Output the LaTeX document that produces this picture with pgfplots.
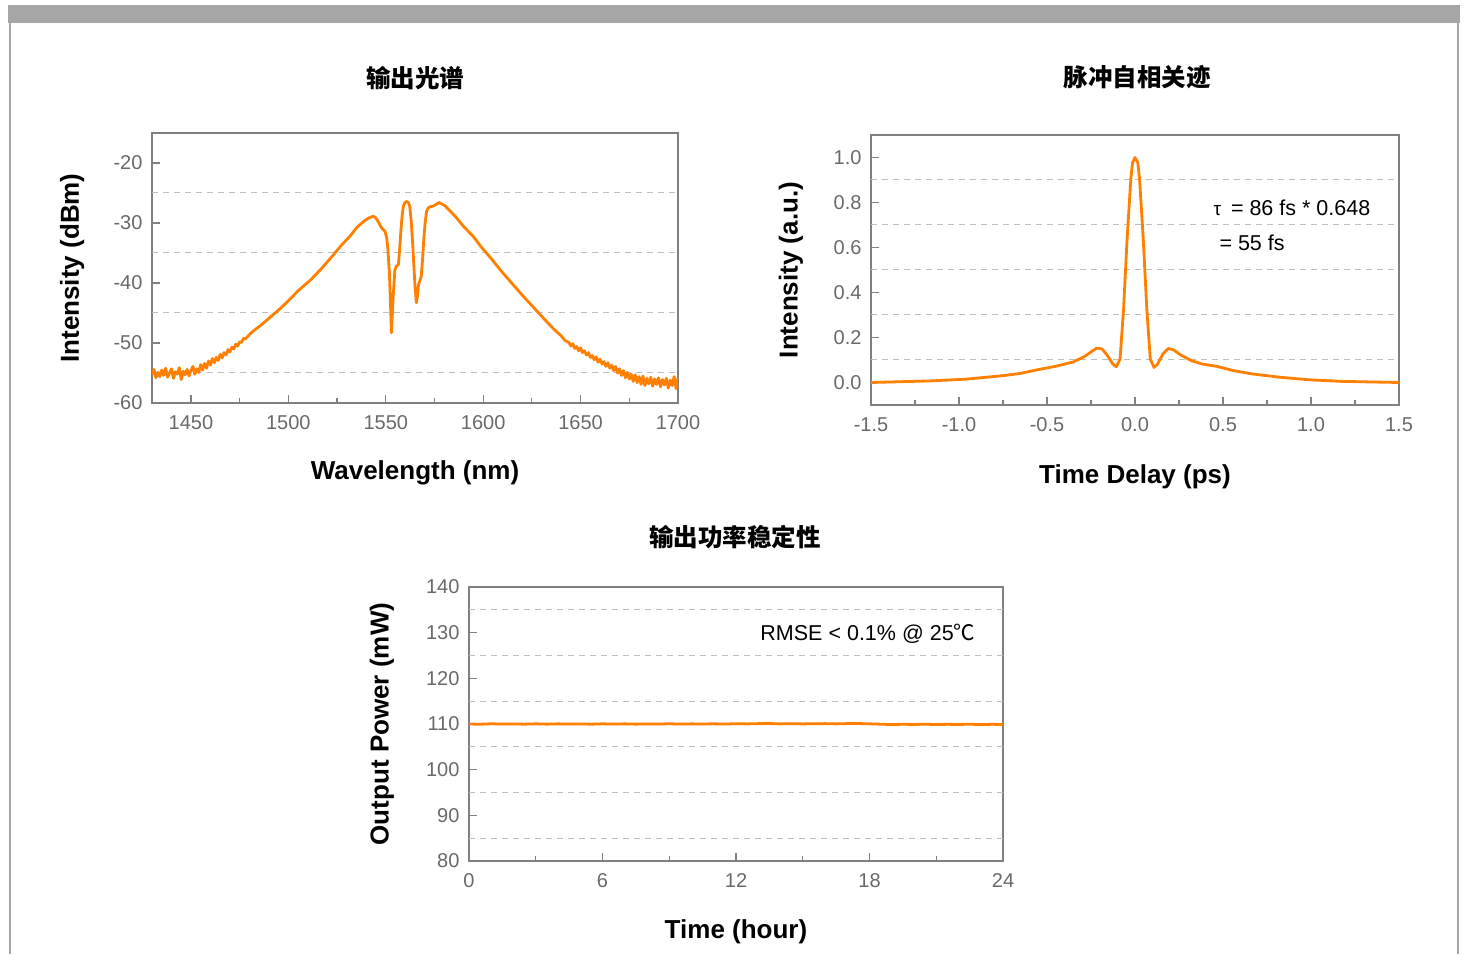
\documentclass[border=0pt]{standalone}
\usepackage{fontspec}
\setmainfont{Liberation Sans}
\newfontfamily\cjk{Noto Sans CJK SC}
\usepackage{pgfplots}
\pgfplotsset{compat=1.18}

\definecolor{lineorange}{RGB}{255,128,0}
\definecolor{axgray}{RGB}{128,128,128}
\definecolor{tickgray}{RGB}{105,105,105}
\definecolor{gridgray}{RGB}{190,190,190}
\definecolor{framegray}{RGB}{166,166,166}

\pgfplotsset{
  panel/.style={
    scale only axis,
    axis line style={axgray, line width=1.6pt},
    tick style={axgray, line width=1.2pt},
    tick align=inside,
    tick pos=left,
    major tick length=8pt,
    minor tick length=5pt,
    ticklabel style={font=\fontsize{20}{24}\selectfont, text=tickgray},
    xticklabel style={yshift=-9pt},
    yticklabel style={xshift=-6pt},
    /pgf/number format/assume math mode=true,
    /pgf/number format/1000 sep={},
    label style={font=\fontsize{26}{30}\selectfont\bfseries},
    title style={font=\fontsize{24.5}{28}\selectfont\cjk\bfseries, anchor=center},
    extra y tick style={grid=major, major tick length=0pt,
      major grid style={gridgray, line width=1pt, dash pattern=on 6pt off 5pt}},
    extra y tick labels={},
  },
  trace/.style={lineorange, line width=2.8pt, line join=round, mark=none},
}

\begin{document}
\begin{tikzpicture}
\path[use as bounding box] (0,0) rectangle (1467pt,954pt);
% page frame
\fill[framegray] (8pt,931pt) rectangle (1460pt,949pt);
\draw[framegray, line width=2pt] (10pt,0pt) -- (10pt,931pt);
\draw[framegray, line width=2pt] (1457.5pt,0pt) -- (1457.5pt,931pt);

% ---- output spectrum
\begin{axis}[panel,
  at={(152pt,551pt)}, anchor=south west, width=526pt, height=270pt,
  xmin=1430, xmax=1700, ymin=-60, ymax=-15,
  xtick={1450,1500,1550,1600,1650,1700}, minor x tick num=1,
  ytick={-60,-50,-40,-30,-20},
  extra y ticks={-55,-45,-35,-25},
  title={输出光谱}, title style={at={(0.5,1.182)}},
  xlabel={Wavelength (nm)}, xlabel style={at={(axis description cs:0.5,-0.259)}, anchor=center},
  ylabel={Intensity (dBm)}, ylabel style={at={(axis description cs:-0.152,0.5)}, anchor=center},
]
\addplot[trace] coordinates {
(1430,-55.3) (1431,-54.4) (1432,-55.8) (1433,-54.9) (1434,-55.6) (1435,-54.5)
(1436,-55.4) (1437,-54.2) (1438,-55.7) (1439,-55.0) (1440,-54.3) (1441,-55.9)
(1442,-54.8) (1443,-55.2) (1444,-54.1) (1445,-56.1) (1446,-54.7) (1447,-55.3)
(1448,-54.4) (1449,-55.5) (1450,-54.6) (1451,-53.9) (1452,-55.2) (1453,-54.3)
(1454,-54.9) (1455,-53.6) (1456,-54.5) (1457,-53.4) (1458,-54.2) (1459,-53.0)
(1460,-53.7) (1461,-52.6) (1462,-53.3) (1463,-52.4) (1464,-52.9) (1465,-51.9)
(1466,-52.5) (1467,-51.6) (1468,-52.0) (1469,-51.1) (1470,-51.5) (1471,-50.7)
(1472,-51.0) (1473,-50.2) (1474,-50.5) (1475,-49.8) (1476,-49.9) (1477,-49.2)
(1478,-49.3) (1480,-48.6) (1482,-48.0) (1484,-47.5) (1486,-47.0) (1490,-45.9)
(1495,-44.5) (1499,-43.3) (1505,-41.3) (1511.7,-39.4) (1517,-37.6) (1522.6,-35.5)
(1527,-33.8) (1531.6,-32.2) (1535,-30.8) (1538.8,-29.7) (1541,-29.2) (1543.3,-28.9)
(1544.5,-29.0) (1546.0,-29.7) (1547.8,-30.8) (1549.6,-31.4) (1550.5,-32.5) (1551.1,-34.4)
(1551.8,-38.0) (1552.3,-42.2) (1552.9,-48.3) (1553.4,-45.0) (1553.8,-42.2) (1554.7,-37.8)
(1555.5,-37.2) (1556.5,-36.9) (1557.2,-34.0) (1557.8,-31.1) (1558.4,-28.8) (1559.0,-27.2)
(1559.8,-26.6) (1560.8,-26.4) (1561.6,-26.6) (1562.3,-27.2) (1563.0,-29.5) (1563.7,-32.8)
(1564.4,-37.0) (1565.0,-40.5) (1565.7,-43.3) (1566.2,-42.3) (1566.8,-40.3) (1567.5,-39.6)
(1568.2,-38.9) (1568.9,-36.0) (1569.5,-32.8) (1570.2,-30.0) (1570.9,-28.1) (1571.8,-27.5)
(1572.7,-27.3) (1574.9,-27.1) (1577.3,-26.6) (1578.5,-26.8) (1580.3,-27.1) (1583,-28.0)
(1585.7,-28.9) (1590,-30.6) (1594.8,-32.2) (1599,-34.0) (1603.8,-35.8) (1609,-37.9)
(1614.6,-40.0) (1620,-42.0) (1625.4,-43.9) (1631,-45.9) (1636.3,-47.7) (1640,-48.8)
(1642,-49.6) (1644,-49.9) (1645,-50.5) (1646,-50.1) (1647,-50.9) (1648,-50.6)
(1649,-51.3) (1650,-50.8) (1651,-51.6) (1652,-51.3) (1653,-52.0) (1654,-51.6)
(1655,-52.4) (1656,-52.1) (1657,-52.8) (1658,-52.3) (1659,-53.2) (1660,-52.7)
(1661,-53.5) (1662,-53.1) (1663,-53.9) (1664,-53.3) (1665,-54.2) (1666,-53.7)
(1667,-54.6) (1668,-53.9) (1669,-55.0) (1670,-54.3) (1671,-55.4) (1672,-54.6)
(1673,-55.8) (1674,-54.9) (1675,-56.0) (1676,-55.2) (1677,-56.4) (1678,-55.3)
(1679,-56.6) (1680,-55.6) (1681,-56.9) (1682,-55.5) (1683,-57.1) (1684,-55.9)
(1685,-56.8) (1686,-55.7) (1687,-57.2) (1688,-56.0) (1689,-56.9) (1690,-55.8)
(1691,-57.3) (1692,-56.1) (1693,-57.0) (1694,-55.9) (1695,-57.5) (1696,-56.2)
(1697,-57.1) (1698,-55.6) (1699,-57.6) (1700,-55.8)
};
\end{axis}

% ---- autocorrelation trace
\begin{axis}[panel,
  at={(871pt,549pt)}, anchor=south west, width=528pt, height=270pt,
  xmin=-1.5, xmax=1.5, ymin=-0.1, ymax=1.1,
  xtick={-1.5,-1.0,-0.5,0,0.5,1.0,1.5}, minor x tick num=1,
  ytick={0,0.2,0.4,0.6,0.8,1.0},
  extra y ticks={0.1,0.3,0.5,0.7,0.9},
  xticklabel style={/pgf/number format/.cd, fixed, fixed zerofill, precision=1},
  yticklabel style={/pgf/number format/.cd, fixed, fixed zerofill, precision=1},
  title={脉冲自相关迹}, title style={at={(0.504,1.193)}},
  xlabel={Time Delay (ps)}, xlabel style={at={(axis description cs:0.5,-0.267)}, anchor=center},
  ylabel={Intensity (a.u.)}, ylabel style={at={(axis description cs:-0.1515,0.5)}, anchor=center},
]
\addplot[trace] coordinates {
(-1.5,0.0) (-1.161,0.007) (-0.958,0.015) (-0.755,0.030) (-0.654,0.040) (-0.552,0.057)
(-0.451,0.072) (-0.349,0.092) (-0.288,0.115) (-0.248,0.137) (-0.217,0.153) (-0.187,0.149)
(-0.156,0.119) (-0.126,0.082) (-0.106,0.070) (-0.085,0.104) (-0.065,0.326) (-0.045,0.637)
(-0.024,0.903) (-0.014,0.977) (0,1.0) (0.016,0.977) (0.026,0.903) (0.047,0.637)
(0.067,0.326) (0.087,0.104) (0.108,0.067) (0.128,0.082) (0.158,0.126) (0.189,0.151)
(0.219,0.145) (0.260,0.122) (0.321,0.097) (0.382,0.082) (0.463,0.072) (0.564,0.052)
(0.666,0.038) (0.828,0.023) (0.990,0.012) (1.173,0.005) (1.5,0.0)
};
\node[anchor=west, font=\fontsize{21.5}{26}\selectfont] at (axis cs:0.426,0.778)
  {{\fontsize{19}{22}\selectfont τ}\hspace{10pt}= 86 fs * 0.648};
\node[anchor=west, font=\fontsize{21.5}{26}\selectfont] at (axis cs:0.460,0.622) {= 55 fs};
\end{axis}

% ---- output power stability
\begin{axis}[panel,
  at={(469pt,93pt)}, anchor=south west, width=534pt, height=274pt,
  xmin=0, xmax=24, ymin=80, ymax=140,
  xtick={0,6,12,18,24}, minor x tick num=1,
  ytick={80,90,100,110,120,130,140},
  extra y ticks={85,95,105,115,125,135},
  title={输出功率稳定性}, title style={at={(0.498,1.16)}},
  xlabel={Time (hour)}, xlabel style={at={(axis description cs:0.5,-0.259)}, anchor=center},
  ylabel={Output Power (mW)}, ylabel style={at={(axis description cs:-0.163,0.5)}, anchor=center},
]
\addplot[trace] coordinates {
(0,110.0) (0.5,109.95) (1,110.05) (1.5,109.98) (2,110.02) (2.5,109.96) (3,110.04)
(3.5,109.97) (4,110.03) (4.5,109.99) (5,110.02) (5.5,109.96) (6,110.04) (6.5,109.98)
(7,110.03) (7.5,109.97) (8,110.02) (8.5,109.99) (9,110.05) (9.5,109.98) (10,110.03)
(10.5,110.0) (11,110.04) (11.5,109.99) (12,110.06) (12.5,110.02) (13,110.08) (13.5,110.1)
(14,110.03) (14.5,110.07) (15,110.02) (15.5,110.06) (16,110.08) (16.5,110.03) (17,110.09)
(17.5,110.1) (18,110.04) (18.5,109.96) (19,109.88) (19.5,109.94) (20,109.9) (20.5,109.95)
(21,109.89) (21.5,109.93) (22,109.9) (22.5,109.95) (23,109.88) (23.5,109.93) (24,109.9)
};
\node[anchor=west, font=\fontsize{21.5}{26}\selectfont] at (axis cs:12.94,129.7)
  {RMSE < 0.1\% @ 25{\cjk ℃}};
\end{axis}
\end{tikzpicture}
\end{document}
